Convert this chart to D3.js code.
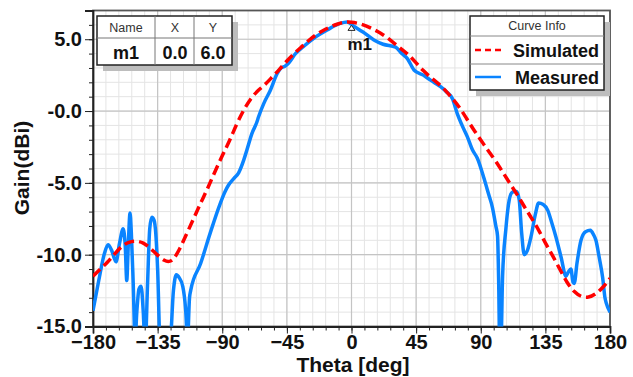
<!DOCTYPE html>
<html>
<head>
<meta charset="utf-8">
<script src="https://cdn.jsdelivr.net/npm/d3@7"></script>
<style>
  body { margin: 0; background: #fff; }
  svg { display: block; font-family: "Liberation Sans", Arial, sans-serif; }
</style>
</head>
<body>
<svg id="chart" width="633" height="377"></svg>
<script>
// theta (deg) and gain (dBi)
const simTheta = [-180, -175, -170, -165, -160, -155, -150, -145, -140, -135, -130, -127, -124, -120, -115, -110, -105, -100, -95, -90, -85, -80, -75, -70, -65, -60, -55, -50, -45, -40, -35, -30, -25, -20, -15, -10, -5, 0, 5, 10, 15, 20, 25, 30, 35, 40, 45, 50, 55, 60, 65, 70, 75, 80, 85, 90, 95, 100, 105, 110, 115, 120, 125, 130, 135, 140, 145, 150, 155, 160, 165, 170, 175, 180];
const simGain = [-11.5, -11.0, -10.55, -9.95, -9.4, -9.1, -9.03, -9.15, -9.55, -10.05, -10.45, -10.5, -10.35, -9.7, -8.6, -7.5, -6.4, -5.35, -4.2, -3.1, -2.1, -0.9, 0.1, 0.9, 1.45, 1.85, 2.4, 2.9, 3.5, 4.0, 4.45, 4.9, 5.3, 5.6, 5.85, 6.05, 6.2, 6.2, 6.1, 5.95, 5.7, 5.45, 5.1, 4.7, 4.3, 3.9, 3.35, 2.8, 2.35, 1.95, 1.5, 0.9, 0.3, -0.5, -1.3, -2.0, -2.75, -3.4, -4.2, -5.0, -5.75, -6.6, -7.4, -8.2, -9.2, -10.05, -11.0, -11.95, -12.6, -12.95, -13.0, -12.75, -12.3, -11.65];

const measTheta = [-180, -176, -172, -169.5, -167, -164, -161.5, -159, -157.5, -156.5, -155.5, -154.2, -153.3, -152, -150.7, -149.5, -148, -146.5, -145, -143.7, -142, -140.5, -139, -137.5, -136.3, -135, -133.3, -126.3, -124, -122, -120, -117.5, -115.5, -114.2, -112.8, -112, -105, -98.4, -92, -88, -85.6, -82, -78.6, -75, -72.8, -69.3, -66, -64.7, -61.2, -56.5, -51.8, -49.5, -46, -43.7, -39, -33.3, -26.3, -17, -8, -3, 1.6, 8, 15.6, 22, 30.7, 35, 38.9, 43.5, 50, 55, 62, 66, 70.3, 73.7, 77, 80.7, 84.2, 87.7, 92.3, 95.5, 98.1, 100.5, 101.7, 102.5, 103.2, 104, 105.2, 107.5, 109.8, 111.5, 113.3, 115, 116.8, 118.5, 120.3, 122.5, 125, 128, 130.3, 133.5, 136.6, 139.5, 142.3, 146, 149.3, 151, 152.8, 154.2, 155.1, 157, 159.8, 163, 166.3, 168.5, 170.2, 172.5, 174.9, 176.5, 177.5, 180];
const measGain = [-13.9, -11.8, -9.9, -9.3, -9.7, -10.5, -9.2, -8.2, -9.5, -11.8, -9.5, -7.1, -8.5, -12, -16, -14, -12.4, -12.2, -14, -16.5, -12, -8.2, -7.4, -7.6, -8.5, -11, -16, -16, -12.5, -11.4, -11.6, -12.2, -13.8, -16, -13.0, -12.5, -10.6, -8.5, -6.6, -5.6, -5.15, -4.7, -4.3, -3.4, -2.7, -1.55, -0.8, -0.4, 0.5, 1.45, 2.6, 2.95, 3.15, 3.35, 4.0, 4.5, 5.07, 5.64, 6.1, 6.2, 5.9, 5.5, 4.95, 4.65, 4.45, 4.0, 3.65, 2.86, 2.5, 2.15, 1.7, 1.35, 0.85, -0.2, -1.0, -1.8, -2.7, -3.3, -4.7, -5.8, -6.7, -8.0, -8.7, -12, -16.5, -16.5, -11.5, -8.2, -6.2, -5.7, -5.6, -5.6, -6.2, -8.5, -10.0, -9.7, -8.75, -7.2, -6.4, -6.5, -6.9, -7.8, -8.75, -10.2, -11.5, -11.2, -11.0, -11.9, -12.0, -10.6, -9.0, -8.4, -8.3, -8.6, -9.0, -10.2, -11.6, -13.0, -13.4, -14.0];

const xTicks = [-180, -135, -90, -45, 0, 45, 90, 135, 180];
const yTicks = [5, 0, -5, -10, -15];
const yTickLabels = ["5.0", "-0.0", "-5.0", "-10.0", "-15.0"];
const markerName = "m1";
const markerX = 0.0;
const markerY = 6.0;

const svg = d3.select("#chart");
const pl = 93, pr = 610, pt = 10.5, pb = 326.5;

const x = d3.scaleLinear().domain([-180, 180]).range([pl, pr]);
const y = d3.scaleLinear().domain([-15, 7]).range([pb, pt]);

const minorX = d3.range(-180, 181, 9);
const minorY = d3.range(-15, 8, 1);

// grid
const grid = svg.append("g");
grid.selectAll(".mx").data(minorX).enter().append("line")
  .attr("x1", d => x(d)).attr("x2", d => x(d)).attr("y1", pt).attr("y2", pb)
  .attr("stroke", "#e4e4e4").attr("stroke-width", 1);
grid.selectAll(".my").data(minorY).enter().append("line")
  .attr("x1", pl).attr("x2", pr).attr("y1", d => y(d)).attr("y2", d => y(d))
  .attr("stroke", "#e4e4e4").attr("stroke-width", 1);
grid.selectAll(".Mx").data(xTicks).enter().append("line")
  .attr("x1", d => x(d)).attr("x2", d => x(d)).attr("y1", pt).attr("y2", pb)
  .attr("stroke", "#c4c4c4").attr("stroke-width", 1.2);
grid.selectAll(".My").data(yTicks).enter().append("line")
  .attr("x1", pl).attr("x2", pr).attr("y1", d => y(d)).attr("y2", d => y(d))
  .attr("stroke", "#c4c4c4").attr("stroke-width", 1.2);

// frame
svg.append("rect").attr("x", pl).attr("y", pt)
  .attr("width", pr - pl).attr("height", pb - pt)
  .attr("fill", "none").attr("stroke", "#555").attr("stroke-width", 1.8);

// axes
const yAxisMinor = d3.axisLeft(y).tickValues(minorY).tickSize(4).tickFormat("");
const yAxis = d3.axisLeft(y).tickValues(yTicks).tickSize(8).tickPadding(3)
  .tickFormat((d, i) => yTickLabels[i]);
const xAxisMinor = d3.axisBottom(x).tickValues(minorX).tickSize(4).tickFormat("");
const xAxis = d3.axisBottom(x).tickValues(xTicks).tickSize(7).tickPadding(1)
  .tickFormat(d => d3.format("d")(d));

svg.append("g").attr("transform", `translate(${pl},0)`).call(yAxisMinor)
  .call(g => g.select(".domain").remove());
const gy = svg.append("g").attr("transform", `translate(${pl},0)`).call(yAxis);
svg.append("g").attr("transform", `translate(0,${pb})`).call(xAxisMinor)
  .call(g => g.select(".domain").remove());
const gx = svg.append("g").attr("transform", `translate(0,${pb})`).call(xAxis);

[gy, gx].forEach(g => {
  g.select(".domain").attr("stroke", "#222").attr("stroke-width", 1.8);
  g.selectAll("text").attr("fill", "#111").style("font-size", "20px").style("font-weight", "bold");
});
svg.selectAll(".tick line").attr("stroke", "#222");

svg.append("text").attr("x", 353).attr("y", 372).attr("text-anchor", "middle")
  .style("font-size", "21px").style("font-weight", "bold").attr("fill", "#111")
  .text("Theta [deg]");
svg.append("text").attr("transform", "translate(29,168) rotate(-90)").attr("text-anchor", "middle")
  .style("font-size", "21px").style("font-weight", "bold").attr("fill", "#111")
  .text("Gain(dBi)");

// curves
svg.append("clipPath").attr("id", "clip").append("rect")
  .attr("x", pl).attr("y", pt).attr("width", pr - pl).attr("height", pb - pt);

const line = d3.line().x(d => x(d[0])).y(d => y(d[1])).curve(d3.curveMonotoneX);

svg.append("path").attr("clip-path", "url(#clip)")
  .datum(measTheta.map((t, i) => [t, measGain[i]]))
  .attr("d", line).attr("fill", "none")
  .attr("stroke", "#0a84ff").attr("stroke-width", 3.5).attr("stroke-linejoin", "round");

svg.append("path").attr("clip-path", "url(#clip)")
  .datum(simTheta.map((t, i) => [t, simGain[i]]))
  .attr("d", line.curve(d3.curveBasis)).attr("fill", "none")
  .attr("stroke", "#ff0000").attr("stroke-width", 3.5).attr("stroke-dasharray", "10,5");

// marker
const mx = x(markerX), my = y(markerY);
svg.append("path").attr("d", `M${mx},${my + 0.5} L${mx - 3.5},${my + 5.5} L${mx + 3.5},${my + 5.5} Z`)
  .attr("fill", "#fff").attr("stroke", "#222").attr("stroke-width", 1);
svg.append("text").attr("x", mx - 4).attr("y", my + 25)
  .style("font-size", "17px").style("font-weight", "bold").attr("fill", "#111").text(markerName);

// marker table
const tb = svg.append("g");
tb.append("rect").attr("x", 103).attr("y", 22).attr("width", 135).attr("height", 49).attr("fill", "#bdbdbd");
tb.append("rect").attr("x", 97).attr("y", 16).attr("width", 135).attr("height", 49)
  .attr("fill", "#fff").attr("stroke", "#222").attr("stroke-width", 1.5);
tb.append("line").attr("x1", 97).attr("x2", 232).attr("y1", 38).attr("y2", 38).attr("stroke", "#777");
[155, 194].forEach(cx => tb.append("line").attr("x1", cx).attr("x2", cx).attr("y1", 16).attr("y2", 65).attr("stroke", "#777"));
const cols = [126, 175, 213];
["Name", "X", "Y"].forEach((t, i) => tb.append("text").attr("x", cols[i]).attr("y", 31.5)
  .attr("text-anchor", "middle").style("font-size", "12.5px").attr("fill", "#333").text(t));
[markerName, d3.format(".1f")(markerX), d3.format(".1f")(markerY)].forEach((t, i) =>
  tb.append("text").attr("x", cols[i]).attr("y", 58.5).attr("text-anchor", "middle")
    .style("font-size", "18px").style("font-weight", "bold").attr("fill", "#111").text(t));

// legend
const lg = svg.append("g");
lg.append("rect").attr("x", 476).attr("y", 22).attr("width", 134).attr("height", 74).attr("fill", "#bdbdbd");
lg.append("rect").attr("x", 470).attr("y", 16).attr("width", 134).attr("height", 74)
  .attr("fill", "#fff").attr("stroke", "#222").attr("stroke-width", 1.5);
lg.append("line").attr("x1", 470).attr("x2", 604).attr("y1", 36).attr("y2", 36).attr("stroke", "#888");
lg.append("line").attr("x1", 470).attr("x2", 604).attr("y1", 64).attr("y2", 64).attr("stroke", "#888");
lg.append("text").attr("x", 537).attr("y", 30).attr("text-anchor", "middle")
  .style("font-size", "12.5px").attr("fill", "#333").text("Curve Info");
const legendItems = [
  { name: "Simulated", color: "#ff0000", dash: "6,4", cy: 50 },
  { name: "Measured", color: "#0a84ff", dash: null, cy: 77 }
];
legendItems.forEach(d => {
  lg.append("line").attr("x1", 475).attr("x2", 501).attr("y1", d.cy).attr("y2", d.cy)
    .attr("stroke", d.color).attr("stroke-width", 2.5).attr("stroke-dasharray", d.dash);
  lg.append("text").attr("x", 599).attr("y", d.cy + 6.5).attr("text-anchor", "end")
    .style("font-size", "18px").style("font-weight", "bold").attr("fill", "#111").text(d.name);
});
</script>
</body>
</html>
